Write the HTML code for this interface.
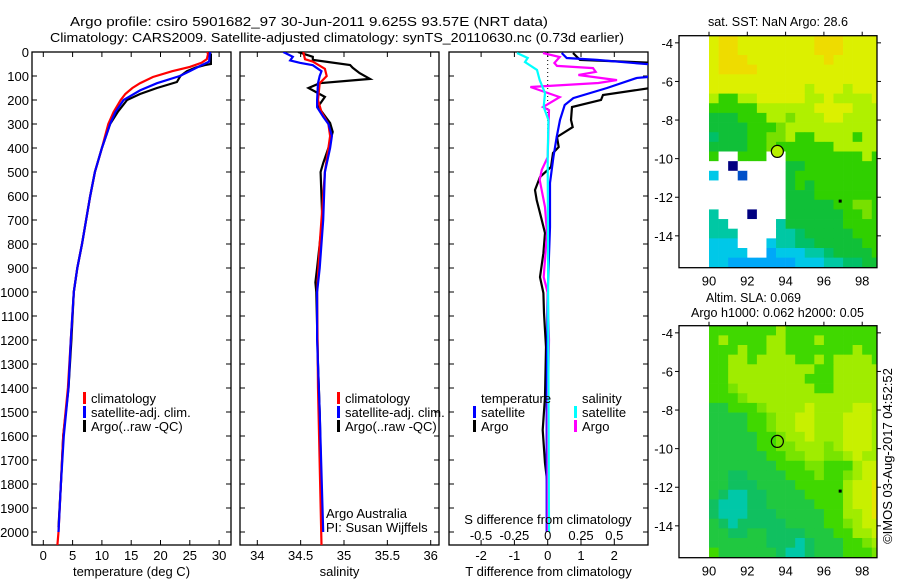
<!DOCTYPE html>
<html><head><meta charset="utf-8"><style>
html,body{margin:0;padding:0;background:#fff;}
svg{display:block;font-family:"Liberation Sans",sans-serif;font-size:13px;}
</style></head><body>
<svg id="fig" width="900" height="580" viewBox="0 0 900 580" xmlns="http://www.w3.org/2000/svg">
<g>
<text x="70" y="26" textLength="478" lengthAdjust="spacingAndGlyphs">Argo profile: csiro 5901682_97 30-Jun-2011 9.625S 93.57E (NRT data)</text>
<text x="50" y="42" textLength="574" lengthAdjust="spacingAndGlyphs">Climatology: CARS2009. Satellite-adjusted climatology: synTS_20110630.nc (0.73d earlier)</text>
</g>
<text x="708" y="26" textLength="140" lengthAdjust="spacingAndGlyphs">sat. SST: NaN Argo: 28.6</text>
<text x="706" y="302" textLength="95" lengthAdjust="spacingAndGlyphs">Altim. SLA: 0.069</text>
<text x="691" y="317" textLength="173" lengthAdjust="spacingAndGlyphs">Argo h1000: 0.062 h2000: 0.05</text>
<text x="0" y="0" transform="translate(892,456) rotate(-90)" text-anchor="middle">©IMOS 03-Aug-2017 04:52:52</text>
</svg>
<script>
// ---------- data ----------
const depthTicks = [0,100,200,300,400,500,600,700,800,900,1000,1100,1200,1300,1400,1500,1600,1700,1800,1900,2000];
const tempTicks = [0,5,10,15,20,25,30];
const salTicks = [34,34.5,35,35.5,36];
const salTickLabels = ["34","34.5","35","35.5","36"];
const tdiffTicks = [-2,-1,0,1,2];
const sdiffTicks = [-0.5,-0.25,0,0.25,0.5];
const sdiffTickLabels = ["-0.5","-0.25","0","0.25","0.5"];

const argoTDepth = [0,10,50,55,65,80,100,125,150,175,200,250,300,400,500,600,700,800,900,1000,1200,1400,1600,1800,1980];
const argoTemp = [28.2,28.6,28.6,27.5,26.0,24.5,23.4,22.8,19.4,16.5,14.3,12.7,11.4,10.0,8.8,8.0,7.3,6.6,5.8,5.2,4.8,4.3,3.4,3.0,2.6];
const climTDepth = [0,10,30,45,62,80,104,130,150,175,200,250,300,400,500,600,700,800,900,1000,1200,1400,1600,1800,2000,2054];
const climTemp = [28.0,28.1,27.9,27.0,25.0,22.0,18.7,16.5,15.2,14.0,13.2,12.0,11.1,10.0,8.8,8.0,7.3,6.6,5.8,5.2,4.7,4.2,3.4,3.0,2.6,2.4];
const satTDepth = [0,10,40,60,80,100,130,160,200,250,300,400,500,600,700,800,900,1000,1200,1400,1600,1800,2000];
const satTemp = [28.5,28.4,28.3,26.6,25.0,23.3,19.4,16.5,13.7,12.3,11.4,10.0,8.8,8.0,7.3,6.6,5.8,5.2,4.7,4.3,3.5,3.0,2.6];

const argoSDepth = [0,20,33,54,66,88,112,130,150,187,228,296,333,400,463,500,700,900,960,1000,1300,1500,1980];
const argoSal = [34.47,34.64,34.64,35.07,35.10,35.18,35.30,34.72,34.59,34.78,34.70,34.84,34.87,34.82,34.76,34.73,34.75,34.69,34.67,34.68,34.70,34.72,34.75];
const climSDepth = [0,30,40,70,100,130,200,250,300,350,400,500,600,800,1000,1400,2054];
const climSal = [34.53,34.55,34.64,34.78,34.80,34.72,34.70,34.74,34.82,34.84,34.82,34.78,34.76,34.72,34.69,34.70,34.74];
const satSDepth = [0,20,35,45,55,80,100,130,200,230,270,300,350,400,500,700,900,1000,1200,1500,2000];
const satSal = [34.30,34.41,34.38,34.49,34.64,34.74,34.72,34.70,34.69,34.69,34.76,34.82,34.86,34.84,34.78,34.76,34.72,34.69,34.69,34.72,34.76];

const argoTdDepth = [4,33,46,146,179,200,229,283,313,354,396,421,479,521,575,617,671,754,838,938,1004,1088,1229,1438,1575,1713,1783,2000];
const argoTdiff = [0.76,0.97,3.3,3.3,1.66,1.6,0.73,0.7,0.75,0.28,0.33,0.16,0.1,-0.23,-0.38,-0.33,-0.23,-0.08,-0.13,-0.23,-0.13,-0.11,-0.05,-0.08,-0.15,-0.08,-0.02,0.0];
const satTdDepth = [4,25,33,54,104,108,150,192,221,283,354,438,546,729,1000,1500,2000];
const satTdiff = [0.42,0.57,1.48,3.3,3.0,2.68,1.78,0.77,0.51,0.37,0.27,0.17,0.07,0.07,0.0,-0.03,-0.03];
const argoSdDepth = [4,21,46,58,67,83,96,117,129,146,188,229,242,438,492,533,646,754,938,1004,1200,1500,2000];
const argoSdiff = [-0.035,0.09,0.05,0.07,0.34,0.36,0.23,0.52,0.38,-0.13,0.09,-0.035,0.01,0.0,-0.045,-0.06,-0.02,-0.005,-0.03,0.0,0.01,0.0,0.0];
const satSdDepth = [4,25,42,75,117,171,229,283,438,2000];
const satSdiff = [-0.23,-0.15,-0.17,-0.08,-0.06,-0.02,-0.03,0.005,0.0,0.01];

const lonTicks = [90,92,94,96,98];
const latTicks = [-4,-6,-8,-10,-12,-14];
const argoLon = 93.57, argoLat = -9.625;
const sstGrid = [
"YOOYYYYYYYYOOOYYYY","YOOYYYYYYYYOOOYYYY","YOOOYYYYYYYYOYYYYY","YOOOOYYYYYYYYYYYYY",
"YYYYYYYYYYYYYYYYYY","YYYYYYYYYYLYYYLYYY","LGGLLYYYYYLLYLLLLY","GGGGGLLLLLLYYYYLLL",
"DDDGGGLLMLLLYYLLLL","DDDDGGGMLLLLLLLLLL","EDDDGGMMLGGLLLLGLL","DDDDGGMGGGGGGLLLLL",
"GWWGGGWWGGGGGGGGLG","WWNWWWWWDDGGGGGGGG","CWWBWWWWDGGGGGGGGG","WWWWWWWWDGDGGGGGGG",
"WWWWWWWWDDDGGGGGGG","WWWWWWWWDDDDDGGMMG","TWWWNWWWDDDDDDGGMG","TTWWWWWTDDDDDDGGGG",
"TTTWWWWTTEDDDDDGGG","CCCWWWCTTEEDDDDDGG","CCCCWWSCCCTTEDDDDG","CCSSSSSSSCCCTTEEDD"];
const sstColors = {O:"#eedc00",Y:"#dcf000",L:"#b0f000",M:"#78e000",G:"#30d000",D:"#10c038",E:"#00c068",T:"#00c8a4",C:"#00c8e8",S:"#00a8f8",W:"#ffffff",N:"#000080",B:"#0050c8"};
const slaGrid = [
"GGGGGGGLGGGGGGGGGG","GLGGGGLLGGGLGGGGGG","GGGLGGLLGGGGGGGLGG","GGLLGLLLLGGLGLLLLG",
"GGLLLLLLLLLGGLLLLL","GGLLLLLLLLGGGLLLLL","GGMLLLLLLLLGGLLLLL","GGGMLLLLLLLLLLLLLL",
"DDGGGMLLLLYLLLLYYL","DDDDGGMLLYYLLLYYYL","DDDDGGMLLYYLLLYYYL","DDDDDGGMLLYLLLYYYL",
"DDDDDGGMMLLLMLYYYL","DDDDDDGGMMLLMMLYLL","DDDDDDDGGGMMGGGLYY","DDEEDDDDGGGMGGMLYY",
"DDEEEDDDDGGGGGLYYO","DETTEEDDDDGGGGLYYO","ETTTEEDDDDDGGGLYYO","ETTTEEEDDDDDGGLLYO",
"DETEEEEEDDDDGGMLYY","DDEEDDEEEEDDDGGLLY","DDDDDDEEETEDDDGGML","GDDDDDDETTEDDDGGGM"];
const slaColors = {G:"#40d800",M:"#78e400",L:"#a0ec00",Y:"#c8f000",O:"#e6e400",D:"#20c840",E:"#10c060",T:"#00c8a8"};

// ---------- helpers ----------
const NS = "http://www.w3.org/2000/svg";
const svg = document.getElementById("fig");
function mk(tag, attrs, parent){ const e=document.createElementNS(NS,tag); for(const k in attrs) e.setAttribute(k,attrs[k]); (parent||svg).appendChild(e); return e; }
const yD = d => 52 + d*0.24;
const TOP=52, BOT=545;

function panel(name, x0, x1, xScale, xticks, xlabels, xtitle, showDepthLabels){
  const g = mk("g",{});
  
  
  const cp = mk("clipPath",{id:name+"-clip"}, g);
  mk("rect",{x:x0,y:TOP,width:x1-x0,height:BOT-TOP}, cp);
  const fr = mk("rect",{x:x0,y:TOP,width:x1-x0,height:BOT-TOP,fill:"none",stroke:"#000","stroke-width":1.3}, g);
  
  
  xticks.forEach((v,i)=>{
    const x = xScale(v);
    mk("line",{x1:x,x2:x,y1:BOT,y2:BOT-5,stroke:"#000"}, g);
    mk("line",{x1:x,x2:x,y1:TOP,y2:TOP+5,stroke:"#000"}, g);
    if(xlabels){ const t=mk("text",{x:x,y:BOT+15,"text-anchor":"middle"}, g); t.textContent=xlabels[i];
      
       }
  });
  depthTicks.forEach(d=>{
    const y=yD(d);
    mk("line",{x1:x0,x2:x0+5,y1:y,y2:y,stroke:"#000"}, g);
    mk("line",{x1:x1,x2:x1-5,y1:y,y2:y,stroke:"#000"}, g);
    if(showDepthLabels){ const t=mk("text",{x:29,y:y+5,"text-anchor":"end"}, g); t.textContent=d;
      
       }
  });
  const tt = mk("text",{x:(x0+x1)/2,y:576,"text-anchor":"middle"}, g); tt.textContent=xtitle;
  
  
  return g;
}
function line(g, clipId, xs, ds, xScale, color, w, name){
  const pts = xs.map((v,i)=> xScale(v).toFixed(1)+","+yD(ds[i]).toFixed(1)).join(" ");
  const p = mk("polyline",{points:pts,fill:"none",stroke:color,"stroke-width":w,"clip-path":"url(#"+clipId+")"}, g);
  
  
}
function legend(g, x, y, items){
  items.forEach((it,i)=>{
    const yy=y+i*14;
    if(it.color){ const r=mk("rect",{x:x,y:yy-6,width:3,height:12,fill:it.color}, g);
      
       }
    const t=mk("text",{x:x+8,y:yy+5}, g); t.textContent=it.label;
    
    
  });
}

// ---------- temperature panel ----------
const xT = v => 43.3 + v*5.86;
const gT = panel("temperature-panel",32,231,xT,tempTicks,tempTicks.map(String),"temperature (deg C)",true);
line(gT,"temperature-panel-clip",argoTemp,argoTDepth,xT,"#000",2.2,"argo-temperature-line");
line(gT,"temperature-panel-clip",climTemp,climTDepth,xT,"#f00",2.2,"climatology-temperature-line");
line(gT,"temperature-panel-clip",satTemp,satTDepth,xT,"#00f",2.2,"satellite-temperature-line");
legend(gT,83,398,[{color:"#f00",label:"climatology"},{color:"#00f",label:"satellite-adj. clim."},{color:"#000",label:"Argo(..raw -QC)"}]);

// ---------- salinity panel ----------
const xS = v => 257.3 + (v-34)*86.7;
const gS = panel("salinity-panel",240,439,xS,salTicks,salTickLabels,"salinity",false);
line(gS,"salinity-panel-clip",argoSal,argoSDepth,xS,"#000",2.2,"argo-salinity-line");
line(gS,"salinity-panel-clip",climSal,climSDepth,xS,"#f00",2.2,"climatology-salinity-line");
line(gS,"salinity-panel-clip",satSal,satSDepth,xS,"#00f",2.2,"satellite-salinity-line");
legend(gS,337,398,[{color:"#f00",label:"climatology"},{color:"#00f",label:"satellite-adj. clim."},{color:"#000",label:"Argo(..raw -QC)"}]);
legend(gS,318,513,[{label:"Argo Australia"},{label:"PI: Susan Wijffels"}]);

// ---------- difference panel ----------
const xTd = v => 547.7 + v*33.3;
const xSd = v => 547.7 + v*133.3;
const gD = panel("difference-panel",449,648,xTd,tdiffTicks,tdiffTicks.map(String),"T difference from climatology",false);
const zl = mk("line",{x1:xTd(0),x2:xTd(0),y1:yD(0),y2:yD(400),stroke:"#000","stroke-dasharray":"1,3"}, gD);


line(gD,"difference-panel-clip",argoTdiff,argoTdDepth,xTd,"#000",2.2,"argo-temperature-difference-line");
line(gD,"difference-panel-clip",satTdiff,satTdDepth,xTd,"#00f",2.2,"satellite-temperature-difference-line");
line(gD,"difference-panel-clip",argoSdiff,argoSdDepth,xSd,"#f0f",2.2,"argo-salinity-difference-line");
line(gD,"difference-panel-clip",satSdiff,satSdDepth,xSd,"#0ff",2.2,"satellite-salinity-difference-line");
legend(gD,473,398,[{label:""},{color:"#00f",label:"satellite"},{color:"#000",label:"Argo"}]);
legend(gD,574,398,[{label:""},{color:"#0ff",label:"satellite"},{color:"#f0f",label:"Argo"}]);
[["temperature",481,"temperature-legend-heading"],["salinity",582,"salinity-legend-heading"]].forEach(a=>{
  const t=mk("text",{x:a[1],y:403}, gD); t.textContent=a[0];
  
  
});
const sdt = mk("text",{x:548,y:524,"text-anchor":"middle"}, gD); sdt.textContent="S difference from climatology";


sdiffTicks.forEach((v,i)=>{
  const t=mk("text",{x:xSd(v),y:540,"text-anchor":"middle"}, gD); t.textContent=sdiffTickLabels[i];
  
  
});

// ---------- maps ----------
function map(name, top, grid, colors, latTop, circleFill){
  const g = mk("g",{});
  
  
  const L=679, R=877, H=232;
  const xL = lon => 709 + (lon-90)*19.15;
  const yL = lat => top + (latTop-lat)*19.3;
  const cp = mk("clipPath",{id:name+"-clip"}, g);
  mk("rect",{x:L,y:top,width:R-L,height:H}, cp);
  const cells = mk("g",{"clip-path":"url(#"+name+"-clip)"}, g);
  grid.forEach((row,r)=>{
    for(let c=0;c<row.length;c++){
      const lon0 = 90 + c*0.5, lat0 = latTop - r*0.5;
      const cell = mk("rect",{x:xL(lon0).toFixed(2),y:yL(lat0).toFixed(2),width:9.9,height:10.0,fill:colors[row[c]]}, cells);
      
      
    }
  });
  const dot = mk("rect",{x:xL(96.85)-1.5,y:yL(-12.2)-1.5,width:3,height:3,fill:"#000"}, cells);
  
  
  const circ = mk("circle",{cx:xL(argoLon),cy:yL(argoLat),r:6,fill:circleFill,stroke:"#000","stroke-width":1.2}, g);
  
  
  const fr = mk("rect",{x:L,y:top,width:R-L,height:H,fill:"none",stroke:"#000","stroke-width":1.3}, g);
  
  
  lonTicks.forEach(v=>{
    const x=xL(v);
    mk("line",{x1:x,x2:x,y1:top,y2:top-4,stroke:"#000"}, g);
    const t=mk("text",{x:x,y:top+H+18,"text-anchor":"middle"}, g); t.textContent=v;
    
    
  });
  latTicks.forEach(v=>{
    const y=yL(v);
    mk("line",{x1:R,x2:R+4,y1:y,y2:y,stroke:"#000"}, g);
    mk("line",{x1:L,x2:L-4,y1:y,y2:y,stroke:"#000"}, g);
    const t=mk("text",{x:673,y:y+5,"text-anchor":"end"}, g); t.textContent=v;
    
    
  });
}
map("sst-map",35.7,sstGrid,sstColors,-3.63,"#b8f000");
map("sla-map",325.7,slaGrid,slaColors,-3.63,"none");
</script>
</body></html>
